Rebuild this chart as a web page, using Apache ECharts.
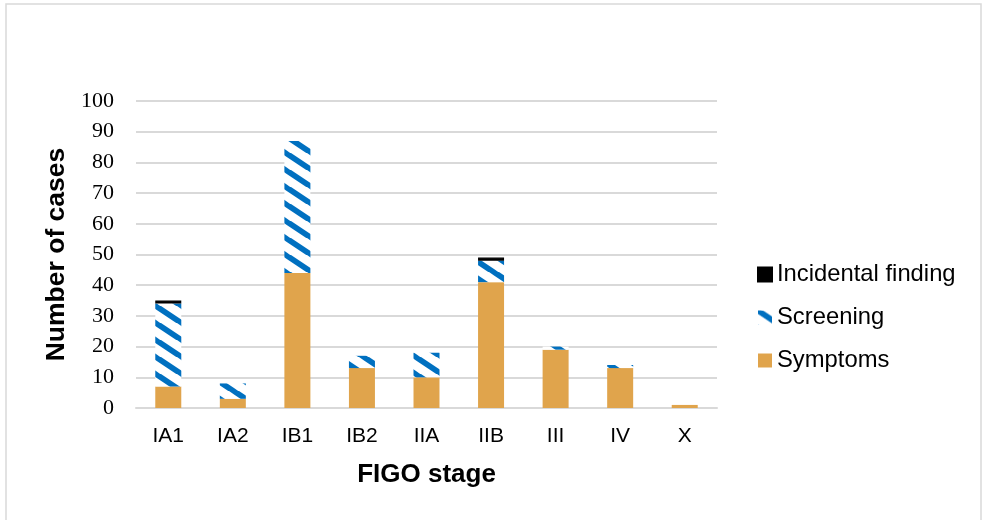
<!DOCTYPE html>
<html>
<head>
<meta charset="utf-8">
<script src="https://cdn.jsdelivr.net/npm/echarts@6/dist/echarts.min.js"></script>
<style>
  html, body { margin: 0; padding: 0; background: #fff; }
  #chart { width: 982px; height: 520px; }
</style>
</head>
<body>
<div id="chart"></div>
<script>
// FIGO stage categories and case counts by mode of detection
const stages = ['IA1', 'IA2', 'IB1', 'IB2', 'IIA', 'IIB', 'III', 'IV', 'X'];
const symptoms = [7, 3, 44, 13, 10, 41, 19, 13, 1];
const screening = [27, 5, 43, 4, 8, 7, 1, 1, 0];
const incidental = [1, 0, 0, 0, 0, 1, 0, 0, 0];
const yTicks = [0, 10, 20, 30, 40, 50, 60, 70, 80, 90, 100];

// Diagonal blue hatch used for the screening series
function makeHatch() {
  const w = 26, h = 17.5;
  const c = document.createElement('canvas');
  c.width = w; c.height = h;
  const ctx = c.getContext('2d');
  ctx.fillStyle = '#ffffff';
  ctx.fillRect(0, 0, w, h);
  ctx.strokeStyle = '#0070C0';
  ctx.lineWidth = 5.6;
  for (let k = -1; k <= 1; k++) {
    ctx.beginPath();
    ctx.moveTo(-w, -h + k * h);
    ctx.lineTo(2 * w, 2 * h + k * h);
    ctx.stroke();
  }
  return c;
}
const hatch = { image: makeHatch(), repeat: 'repeat' };

// empty stack segments are left out so they draw nothing
const orEmpty = v => (v === 0 ? '-' : v);

const chart = echarts.init(document.getElementById('chart'));
chart.setOption({
  backgroundColor: '#ffffff',
  animation: false,
  graphic: [{
    type: 'rect',
    shape: { x: 6, y: 4, width: 975, height: 530 },
    style: { fill: 'none', stroke: '#d9d9d9', lineWidth: 1.5 },
    silent: true
  }],
  grid: { left: 136, right: 265, top: 101, bottom: 112 },
  legend: {
    orient: 'vertical',
    left: 757,
    top: 262,
    padding: 0,
    itemWidth: 14,
    itemHeight: 14,
    itemGap: 18,
    icon: 'rect',
    data: ['Incidental finding', 'Screening', 'Symptoms'],
    textStyle: { fontFamily: 'Liberation Sans, Arial, sans-serif', fontSize: 23.8, color: '#000', lineHeight: 25 }
  },
  xAxis: {
    type: 'category',
    data: stages,
    name: 'FIGO stage',
    nameLocation: 'middle',
    nameGap: 54,
    nameTextStyle: { fontFamily: 'Liberation Sans, Arial, sans-serif', fontSize: 26, fontWeight: 'bold', color: '#000' },
    axisLine: { show: true, lineStyle: { color: '#d9d9d9', width: 2 } },
    axisTick: { show: false },
    axisLabel: { fontFamily: 'Liberation Sans, Arial, sans-serif', fontSize: 21, color: '#000', margin: 18 }
  },
  yAxis: {
    type: 'value',
    min: yTicks[0],
    max: yTicks[yTicks.length - 1],
    interval: 10,
    name: 'Number of cases',
    nameLocation: 'middle',
    nameGap: 65,
    nameRotate: 90,
    nameTextStyle: { fontFamily: 'Liberation Sans, Arial, sans-serif', fontSize: 26.5, fontWeight: 'bold', color: '#000' },
    axisLine: { show: false },
    axisTick: { show: false },
    axisLabel: { fontFamily: 'Liberation Serif, Times New Roman, serif', fontSize: 22, color: '#000', margin: 22 },
    splitLine: { lineStyle: { color: '#d9d9d9', width: 2 } }
  },
  series: [
    {
      name: 'Symptoms', type: 'bar', stack: 'cases', barWidth: 26,
      data: symptoms,
      itemStyle: { color: '#E0A44C' }
    },
    {
      name: 'Screening', type: 'bar', stack: 'cases', barWidth: 26,
      data: screening.map(orEmpty),
      itemStyle: { color: hatch }
    },
    {
      name: 'Incidental finding', type: 'bar', stack: 'cases', barWidth: 26,
      data: incidental.map(orEmpty),
      itemStyle: { color: '#000000', borderColor: '#000000', borderWidth: 1.2 }
    }
  ]
});
</script>
</body>
</html>
